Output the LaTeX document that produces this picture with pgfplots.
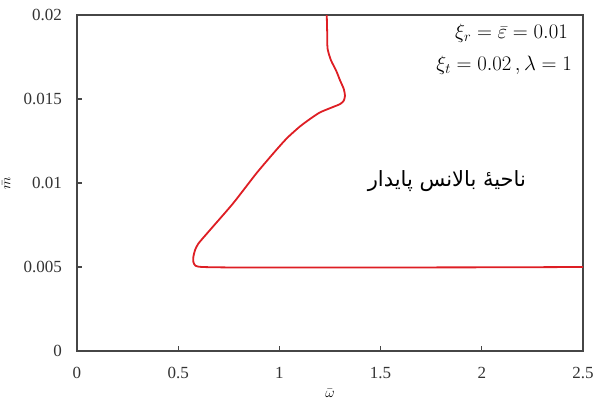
\documentclass[border=0pt]{standalone}
\usepackage{fontspec}
\setmainfont{Liberation Serif}
\newfontfamily\arabicfont[Script=Arabic]{DejaVu Sans}
\TeXXeTstate=1
\usepackage{pgfplots}
\pgfplotsset{compat=1.18}
\definecolor{curvered}{RGB}{222,30,36}
\definecolor{axisgray}{RGB}{70,70,70}
\newcommand\tickfont{\fontsize{17}{20}\selectfont}
\newcommand\labelfont{\fontsize{14}{17}\selectfont}
\newcommand\notefont{\fontsize{19.5}{23}\selectfont}

\begin{document}
\begin{tikzpicture}
\begin{axis}[
  scale only axis, width=506pt, height=336pt,
  xmin=0, xmax=2.5, ymin=0, ymax=0.02,
  scaled y ticks=false,
  xtick={0,0.5,1,1.5,2,2.5},
  ytick={0,0.005,0.01,0.015,0.02},
  /pgf/number format/.cd, fixed, precision=3, assume math mode=true,
  /pgfplots/.cd,
  tick align=inside, major tick length=5pt,
  xtick pos=bottom, ytick pos=left,
  every tick label/.append style={font=\tickfont, text=black!80},
  xticklabel style={yshift=-13pt},
  yticklabel style={xshift=-11.5pt},
  axis line style={color=axisgray, line width=1.3pt},
  every tick/.style={color=axisgray, line width=1.1pt},
  xlabel={$\bar{\omega}$},
  ylabel={$\bar{m}$},
  every axis label/.append style={font=\labelfont},
  xlabel style={at={(rel axis cs:0.5,0)}, anchor=north, yshift=-35pt},
  ylabel style={at={(rel axis cs:-0.1245,0.5)}, anchor=south},
]
\addplot[curvered, line width=1.8pt, smooth, tension=0.4] coordinates {
  (1.234,0.0200) (1.236,0.0190) (1.238,0.0180) (1.255,0.0173)
  (1.280,0.0167) (1.300,0.0161) (1.318,0.0156) (1.324,0.0152)
  (1.318,0.0149) (1.300,0.0147) (1.260,0.0145) (1.200,0.0142)
  (1.150,0.0138) (1.100,0.01335) (1.040,0.0127) (0.987,0.0120)
  (0.888,0.0106) (0.772,0.0088) (0.657,0.0072) (0.600,0.0064)
  (0.583,0.0060) (0.575,0.0056) (0.575,0.0053) (0.585,0.00508)
  (0.620,0.00500) (0.800,0.00497) (1.200,0.00497) (2.000,0.00498)
  (2.500,0.00500)
};
\node[anchor=east, font=\notefont] at (rel axis cs:0.977,0.946)
  {$\xi_r=\bar{\varepsilon}=0.01$};
\node[anchor=east, font=\notefont] at (rel axis cs:0.985,0.851)
  {$\xi_t=0.02\,,\lambda=1$};
\node[font=\arabicfont\fontsize{21}{25}\selectfont] at (rel axis cs:0.731,0.506)
  {\beginR ناحیهٔ بالانس پایدار\endR};
\coordinate (sw) at (rel axis cs:0,0);
\coordinate (ne) at (rel axis cs:1,1);
\end{axis}
\pgfresetboundingbox
\path ([shift={(-77pt,-54pt)}]sw) rectangle ([shift={(11pt,15pt)}]ne);
\end{tikzpicture}
\end{document}
